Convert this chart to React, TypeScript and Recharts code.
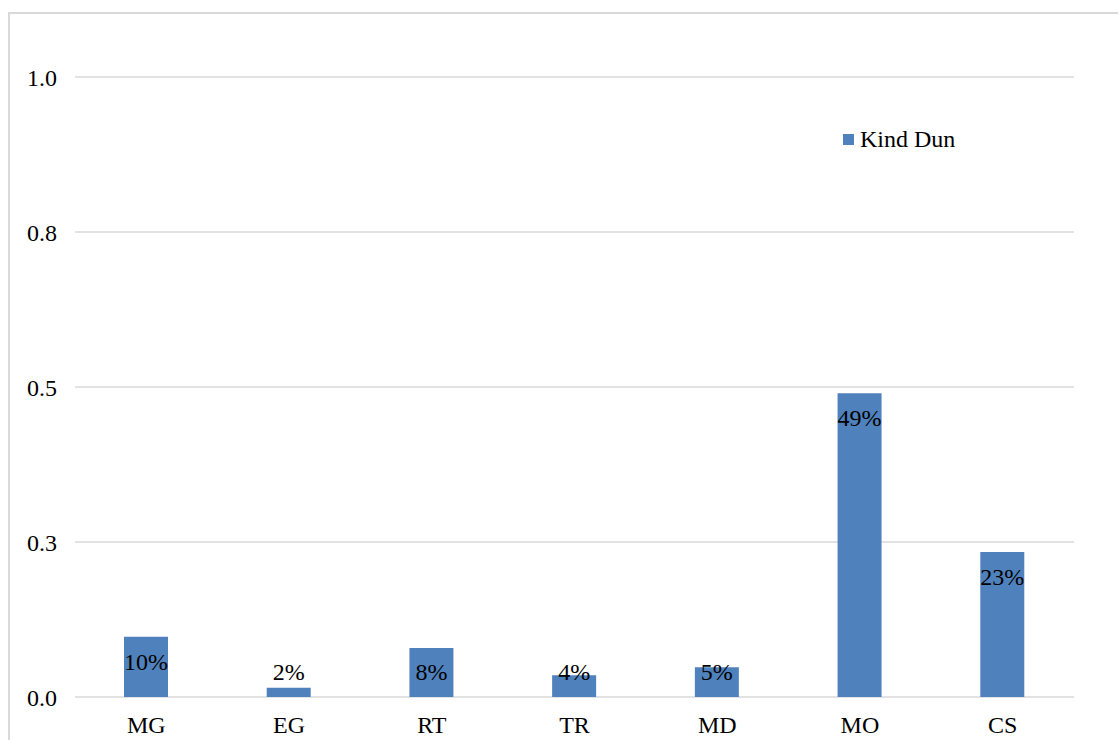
import React from 'react';
import {
  BarChart, Bar, XAxis, YAxis, CartesianGrid, Legend, LabelList
} from 'recharts';

const categories = ['MG', 'EG', 'RT', 'TR', 'MD', 'MO', 'CS'];
const shares = [0.097, 0.015, 0.079, 0.035, 0.048, 0.49, 0.234];
const shareLabels = ['10%', '2%', '8%', '4%', '5%', '49%', '23%'];
const yTicks = [0, 0.25, 0.5, 0.75, 1];
const seriesName = 'Kind Dun';

const FONT = '"Liberation Serif", "Times New Roman", serif';
const BLUE = '#4f81bd';
const GRID = '#d9d9d9';

const data = categories.map((name, i) => ({ name, value: shares[i], label: shareLabels[i] }));

// label sits just inside the top of the bar, but never lower than a fixed
// distance above the baseline (short bars get it drawn over/above them)
const BarLabel = (props: any) => {
  const { x, y, width, height, index } = props;
  const baseline = Math.min(y + 33, y + height - 17);
  return (
    <text
      x={x + width / 2}
      y={baseline}
      textAnchor="middle"
      fill="#000"
      fontSize={24}
      fontFamily={FONT}
    >
      {shareLabels[index]}
    </text>
  );
};

const LegendBox = () => (
  <div style={{ display: 'flex', alignItems: 'center', fontFamily: FONT, fontSize: 24, lineHeight: '28px', color: '#000' }}>
    <span style={{ width: 11, height: 11, background: BLUE, display: 'inline-block', marginRight: 6 }} />
    <span style={{ fontFamily: FONT }}>{seriesName}</span>
  </div>
);

const App: React.FC = () => {
  return (
    <>
      <style>{'body{margin:0;overflow:hidden;}'}</style>
      <div
        style={{
          position: 'absolute',
          left: 8,
          top: 12,
          width: 1110,
          height: 728,
          borderTop: `2px solid ${GRID}`,
          borderLeft: `2px solid ${GRID}`,
          background: '#fff',
          fontFamily: FONT,
        }}
      >
        <BarChart
          width={1108}
          height={726}
          data={data}
          margin={{ top: 63, right: 44, bottom: 0, left: 0 }}
          barCategoryGap="0%"
        >
          <CartesianGrid vertical={false} stroke={GRID} strokeWidth={1.5} />
          <XAxis
            dataKey="name"
            axisLine={false}
            tickLine={false}
            tickSize={0}
            tickMargin={19}
            height={43}
            tick={{ fill: '#000', fontSize: 24, fontFamily: FONT }}
            interval={0}
          />
          <YAxis
            domain={[0, 1]}
            ticks={yTicks}
            width={65}
            axisLine={false}
            tickLine={false}
            tickSize={0}
            tickMargin={18}
            tickFormatter={(v: number) => v.toFixed(1)}
            tick={{ fill: '#000', fontSize: 24, fontFamily: FONT }}
          />
          <Legend
            layout="vertical"
            align="center"
            verticalAlign="middle"
            content={() => <LegendBox />}
            wrapperStyle={{ left: 833, top: 111, width: 'auto' }}
          />
          <Bar dataKey="value" name={seriesName} fill={BLUE} barSize={44} isAnimationActive={false}>
            <LabelList dataKey="label" content={BarLabel} />
          </Bar>
        </BarChart>
      </div>
    </>
  );
};

export default App;
